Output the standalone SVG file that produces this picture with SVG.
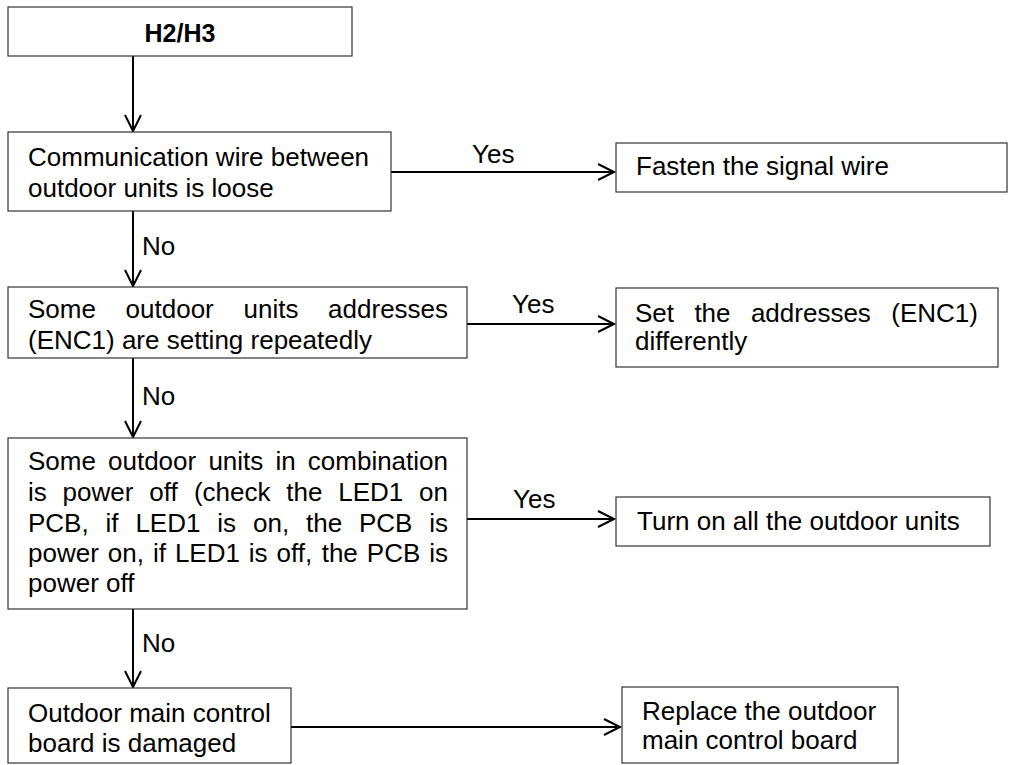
<svg xmlns="http://www.w3.org/2000/svg" width="1018" height="765" viewBox="0 0 1018 765">
<defs>
<style>
.box{fill:#fff;stroke:#333;stroke-width:1.2}
.t{font-family:"Liberation Sans",Arial,sans-serif;font-size:26px;fill:#000}
.b{font-family:"Liberation Sans",Arial,sans-serif;font-size:25px;font-weight:bold;fill:#000}
.c{stroke:#000;stroke-width:2;fill:none}
</style>
<marker id="ah" markerUnits="userSpaceOnUse" viewBox="-18 -10 20 20" refX="0" refY="0" markerWidth="20" markerHeight="20" orient="auto" overflow="visible">
<path d="M-16,-8 L0,0 L-16,8" fill="none" stroke="#000" stroke-width="2"/>
</marker>
</defs>
<rect width="1018" height="765" fill="#fff"/>
<g id="connectors">
<line class="c" x1="133" y1="56" x2="133" y2="131" marker-end="url(#ah)"/>
<line class="c" x1="391" y1="172" x2="614" y2="172" marker-end="url(#ah)"/>
<text class="t" x="472" y="163">Yes</text>
<line class="c" x1="133" y1="211" x2="133" y2="286" marker-end="url(#ah)"/>
<text class="t" x="142" y="255">No</text>
<line class="c" x1="467" y1="324" x2="614" y2="324" marker-end="url(#ah)"/>
<text class="t" x="512" y="313">Yes</text>
<line class="c" x1="133" y1="358" x2="133" y2="437" marker-end="url(#ah)"/>
<text class="t" x="142" y="405">No</text>
<line class="c" x1="467" y1="519" x2="614" y2="519" marker-end="url(#ah)"/>
<text class="t" x="513" y="508">Yes</text>
<line class="c" x1="133" y1="609" x2="133" y2="687" marker-end="url(#ah)"/>
<text class="t" x="142" y="652">No</text>
<line class="c" x1="291" y1="727" x2="620" y2="727" marker-end="url(#ah)"/>
</g>
<g id="n-h2h3">
<rect class="box" x="8" y="7" width="344" height="49"/>
<text class="b" x="180" y="42" text-anchor="middle">H2/H3</text>
</g>
<g id="n-comm">
<rect class="box" x="8" y="132" width="383" height="79"/>
<text class="t" x="28" y="166">Communication wire between</text>
<text class="t" x="28" y="197">outdoor units is loose</text>
</g>
<g id="n-fasten">
<rect class="box" x="616" y="143" width="391" height="49"/>
<text class="t" x="636" y="175">Fasten the signal wire</text>
</g>
<g id="n-addr">
<rect class="box" x="8" y="287" width="459" height="71"/>
<text class="t" y="318"><tspan x="28">Some</tspan><tspan x="125.6">outdoor</tspan><tspan x="243.5">units</tspan><tspan x="328.1">addresses</tspan></text>
<text class="t" x="28" y="349">(ENC1) are setting repeatedly</text>
</g>
<g id="n-set">
<rect class="box" x="616" y="288" width="382" height="79"/>
<text class="t" y="322"><tspan x="635">Set</tspan><tspan x="694.4">the</tspan><tspan x="750.9">addresses</tspan><tspan x="891.3">(ENC1)</tspan></text>
<text class="t" x="635" y="350">differently</text>
</g>
<g id="n-power">
<rect class="box" x="8" y="438" width="459" height="171"/>
<text class="t" y="470"><tspan x="28">Some</tspan><tspan x="108">outdoor</tspan><tspan x="208.4">units</tspan><tspan x="275.4">in</tspan><tspan x="307.8">combination</tspan></text>
<text class="t" y="501"><tspan x="28">is</tspan><tspan x="62.6">power</tspan><tspan x="149.2">off</tspan><tspan x="193.9">(check</tspan><tspan x="286.3">the</tspan><tspan x="338.2">LED1</tspan><tspan x="419">on</tspan></text>
<text class="t" y="532"><tspan x="28">PCB,</tspan><tspan x="105.6">if</tspan><tspan x="135.4">LED1</tspan><tspan x="217.3">is</tspan><tspan x="253">on,</tspan><tspan x="306">the</tspan><tspan x="359">PCB</tspan><tspan x="429.3">is</tspan></text>
<text class="t" y="562"><tspan x="28">power</tspan><tspan x="107.8">on,</tspan><tspan x="152.9">if</tspan><tspan x="174.9">LED1</tspan><tspan x="248.8">is</tspan><tspan x="276.6">off,</tspan><tspan x="321.7">the</tspan><tspan x="366.8">PCB</tspan><tspan x="429.2">is</tspan></text>
<text class="t" x="28" y="592">power off</text>
</g>
<g id="n-turnon">
<rect class="box" x="616" y="497" width="374" height="49"/>
<text class="t" x="637" y="530">Turn on all the outdoor units</text>
</g>
<g id="n-board">
<rect class="box" x="8" y="688" width="283" height="75"/>
<text class="t" x="28" y="722">Outdoor main control</text>
<text class="t" x="28" y="752">board is damaged</text>
</g>
<g id="n-replace">
<rect class="box" x="622" y="687" width="276" height="76"/>
<text class="t" x="642" y="720">Replace the outdoor</text>
<text class="t" x="642" y="749">main control board</text>
</g>
</svg>
